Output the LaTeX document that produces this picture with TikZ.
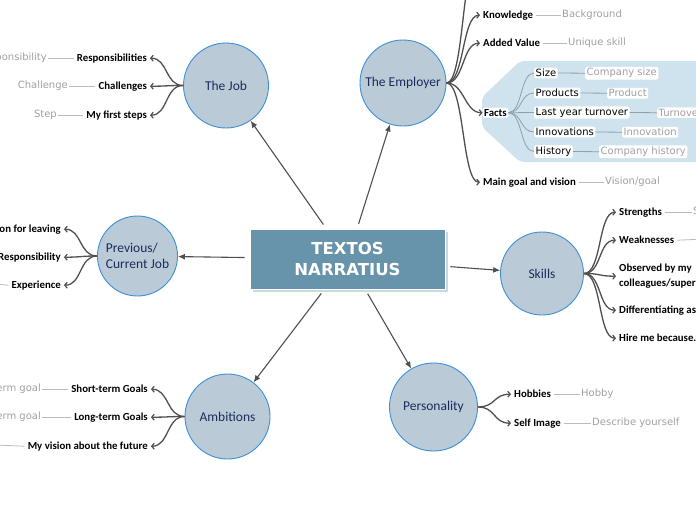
\documentclass[tikz,border=0pt]{standalone}
\usepackage{fontspec}
\setmainfont{Carlito}
\newfontfamily\dejavu{DejaVu Sans}
\usetikzlibrary{arrows.meta}
\definecolor{circfill}{HTML}{BACBD7}
\definecolor{circline}{HTML}{3D8FD6}
\definecolor{navy}{HTML}{1B2B5C}
\definecolor{boxfill}{HTML}{6794AB}
\definecolor{shadowc}{HTML}{C9D8E3}
\definecolor{linkc}{HTML}{4F4F4F}
\definecolor{lblgray}{HTML}{A0A0A0}
\definecolor{glinec}{HTML}{BBBBBB}
\definecolor{factbg}{HTML}{CEE3EE}
\definecolor{factline}{HTML}{8FA0AA}
\begin{document}
\begin{tikzpicture}[x=1pt,y=-1pt,
 topic/.style={circle, fill=circfill, draw=circline, line width=0.9pt, text=navy, font=\fontsize{13.5}{16}\selectfont, align=center, inner sep=0pt},
 child/.style={font=\bfseries\fontsize{10.8}{14.6}\selectfont, text=black, inner xsep=3pt, inner ysep=1.5pt, yshift=-1.2pt},
 lbl/.style={font=\dejavu\fontsize{10}{12}\selectfont, text=lblgray, inner sep=1pt, yshift=-1.2pt},
 factchild/.style={font=\dejavu\fontsize{10}{12}\selectfont, text=black, fill=white, rounded corners=2pt, inner sep=1.5pt, yshift=-1pt},
 factlbl/.style={lbl, fill=white, rounded corners=2pt, inner sep=1.5pt},
 mainarrow/.style={draw=linkc, line width=1.1pt, -{Latex[length=7pt,width=6pt]}, shorten <=5pt},
 branch/.style={draw=linkc, line width=1.3pt, -{Straight Barb[length=2.5pt,width=6pt,line width=1.2pt]}},
 glink/.style={draw=glinec, line width=0.8pt},
 flink/.style={draw=factline, line width=0.8pt}
]
\useasboundingbox (0,0) rectangle (696,520);
\clip (0,0) rectangle (696,520);

% central topic
\fill[shadowc] (253,232) rectangle (448,292);
\node[draw=white, line width=0.8pt, fill=boxfill, minimum width=195pt, minimum height=60pt,
      text=white, font=\dejavu\bfseries\fontsize{16.5}{21.7}\selectfont, align=center] (c) at (347.5,259) {TEXTOS\\NARRATIUS};

% main topics
\node[topic, minimum size=85pt] (job) at (226,85.5) {The Job};
\node[topic, minimum size=86pt] (emp) at (403,83) {The Employer};
\node[topic, minimum size=80pt, align=left] (prev) at (137.5,256) {Previous/\\Current Job};
\node[topic, minimum size=83pt] (skills) at (542,273.5) {Skills};
\node[topic, minimum size=85pt] (amb) at (227.5,416.5) {Ambitions};
\node[topic, minimum size=88pt] (pers) at (433.5,407) {Personality};

\foreach \t in {job,emp,prev,skills,amb,pers} \draw[mainarrow] (c) -- (\t);

% The Job
\node[child, anchor=east] (j1) at (150,57) {Responsibilities};
\node[child, anchor=east] (j2) at (150,85) {Challenges};
\node[child, anchor=east] (j3) at (150,114) {My first steps};
\node[lbl, anchor=east] (j1l) at (48,57) {Responsibility};
\node[lbl, anchor=east] (j2l) at (69,85) {Challenge};
\node[lbl, anchor=east] (j3l) at (58,114) {Step};
\foreach \n in {j1,j2,j3} {
  \draw[branch] (job.west) .. controls +(-18,0) and +(18,0) .. (\n.east);
  \draw[glink] (\n.west) -- (\n l.east);
}

% The Employer
\fill[factbg, rounded corners=5pt] (705,61) -- (520,61) -- (482,97) -- (482,127) -- (520,162) -- (705,162) -- cycle;
\coordinate (e0) at (480,-45);
\node[child, anchor=west] (e1) at (480,14) {Knowledge};
\node[child, anchor=west] (e2) at (480,42) {Added Value};
\node[child, anchor=west, fill=white, rounded corners=2pt, inner xsep=1.5pt] (facts) at (482.5,111.5) {Facts};
\node[child, anchor=west] (e4) at (480,181) {Main goal and vision};
\node[lbl, anchor=west] (e1l) at (561,14) {Background};
\node[lbl, anchor=west] (e2l) at (567,42) {Unique skill};
\node[lbl, anchor=west] (e4l) at (604,181) {Vision/goal};
\draw[branch] (emp.east) .. controls +(18,0) and +(-18,0) .. (e0);
\foreach \n in {e1,e2,facts,e4}
  \draw[branch] (emp.east) .. controls +(18,0) and +(-18,0) .. (\n.west);
\foreach \n in {e1,e2,e4}
  \draw[glink] (\n.east) -- (\n l.west);

% Facts
\node[factchild, anchor=west] (f1) at (534,72) {Size};
\node[factchild, anchor=west] (f2) at (534,92) {Products};
\node[factchild, anchor=west] (f3) at (534,111.5) {Last year turnover};
\node[factchild, anchor=west] (f4) at (534,131) {Innovations};
\node[factchild, anchor=west] (f5) at (534,150.5) {History};
\node[factlbl, anchor=west] (f1l) at (585,72) {Company size};
\node[factlbl, anchor=west] (f2l) at (607,92) {Product};
\node[factlbl, anchor=west] (f3l) at (657,111.5) {Turnover};
\node[factlbl, anchor=west] (f4l) at (622,131) {Innovation};
\node[factlbl, anchor=west] (f5l) at (599,150.5) {Company history};
\foreach \n in {f1,f2,f3,f4,f5} {
  \draw[flink] (facts.east) .. controls +(14,0) and +(-14,0) .. (\n.west);
  \draw[flink] (\n.east) -- (\n l.west);
}

% Skills
\node[child, anchor=west] (s1) at (616,211) {Strengths};
\node[child, anchor=west] (s2) at (616,239) {Weaknesses};
\node[child, anchor=west, align=left] (s3) at (616,275) {Observed by my\\colleagues/superiors};
\node[child, anchor=west] (s4) at (616,309) {Differentiating aspects};
\node[child, anchor=west] (s5) at (616,337) {Hire me because...};
\node[lbl, anchor=west] (s1l) at (692,211) {Strength};
\coordinate (s2l) at (705,239);
\foreach \n in {s1,s2,s3,s4,s5}
  \draw[branch] (skills.east) .. controls +(18,0) and +(-18,0) .. (\n.west);
\draw[glink] (s1.east) -- (s1l.west);
\draw[glink] (s2.east) -- (s2l);

% Previous / Current Job
\node[child, anchor=east] (p1) at (64,228) {Reason for leaving};
\node[child, anchor=east] (p2) at (64,256) {Responsibility};
\node[child, anchor=east] (p3) at (64,284) {Experience};
\coordinate (p3l) at (-5,284);
\foreach \n in {p1,p2,p3}
  \draw[branch] (prev.west) .. controls +(-18,0) and +(18,0) .. (\n.east);
\draw[glink] (p3.west) -- (p3l);

% Ambitions
\node[child, anchor=east] (a1) at (151,388) {Short-term Goals};
\node[child, anchor=east] (a2) at (151,416) {Long-term Goals};
\node[child, anchor=east] (a3) at (151,445) {My vision about the future};
\node[lbl, anchor=east] (a1l) at (42,388) {Short-term goal};
\node[lbl, anchor=east] (a2l) at (42,416) {Long-term goal};
\coordinate (a3l) at (-5,445);
\foreach \n in {a1,a2,a3}
  \draw[branch] (amb.west) .. controls +(-18,0) and +(18,0) .. (\n.east);
\draw[glink] (a1.west) -- (a1l.east);
\draw[glink] (a2.west) -- (a2l.east);
\draw[glink] (a3.west) -- (a3l);

% Personality
\node[child, anchor=west] (h1) at (511,393) {Hobbies};
\node[child, anchor=west] (h2) at (511,422) {Self Image};
\node[lbl, anchor=west] (h1l) at (580,393) {Hobby};
\node[lbl, anchor=west] (h2l) at (591,422) {Describe yourself};
\foreach \n in {h1,h2} {
  \draw[branch] (pers.east) .. controls +(18,0) and +(-18,0) .. (\n.west);
  \draw[glink] (\n.east) -- (\n l.west);
}
\end{tikzpicture}
\end{document}
